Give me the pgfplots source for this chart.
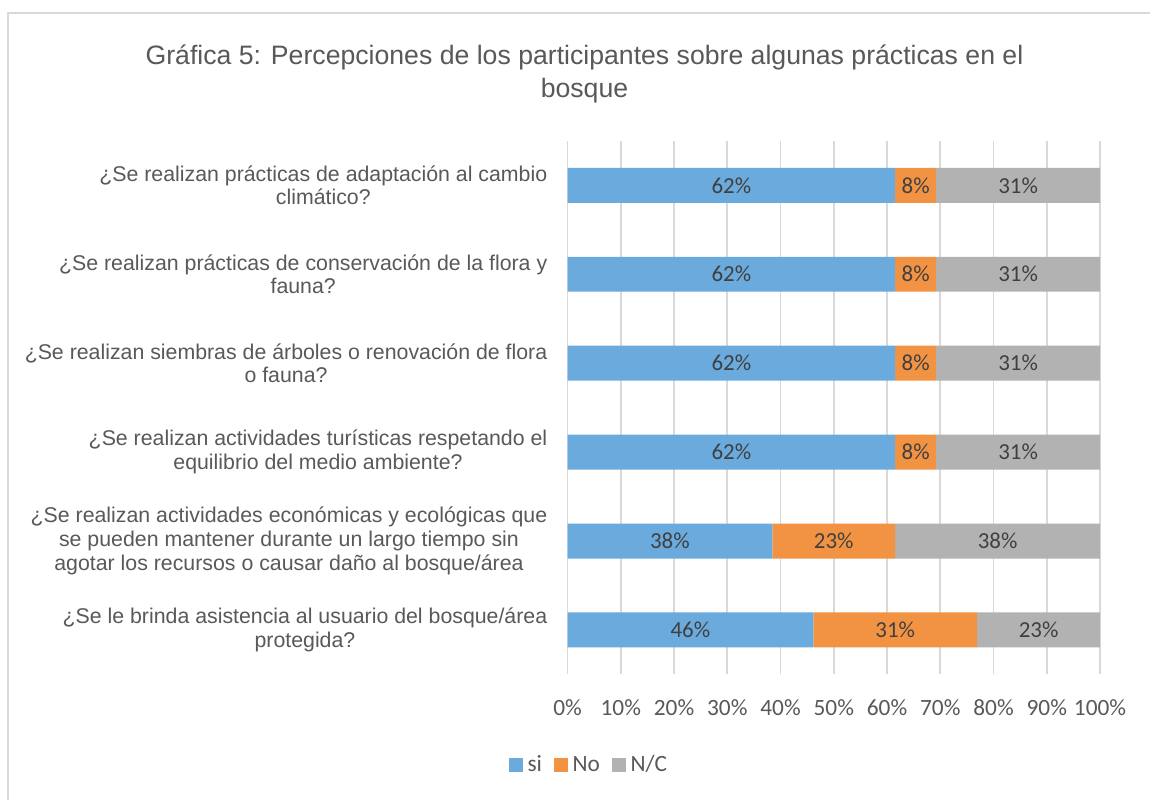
\documentclass[border=0pt]{standalone}
\usepackage{fontspec}
\setmainfont{Liberation Sans}
\newfontfamily\calibri{Carlito}
\usepackage{pgfplots}
\pgfplotsset{compat=1.18}
\usepackage{pgfplotstable}

\definecolor{siblue}{HTML}{6AAADC}
\definecolor{noorange}{HTML}{F29343}
\definecolor{ncgray}{HTML}{B2B2B2}
\definecolor{textgray}{HTML}{595959}
\definecolor{labelgray}{HTML}{404040}
\definecolor{gridgray}{HTML}{D9D9D9}

% Porcentajes por pregunta (pos 1 = abajo, 6 = arriba)
\pgfplotstableread{
pos si    no    nc
1   46.15 30.77 23.08
2   38.46 23.08 38.46
3   61.54 7.69  30.77
4   61.54 7.69  30.77
5   61.54 7.69  30.77
6   61.54 7.69  30.77
}\datos

\pgfplotsset{
  marco/.style={
    at={(426pt,94.5pt)}, anchor=south west,
    scale only axis, width=399.75pt, height=400.5pt,
    xmin=0, xmax=100, ymin=0.5, ymax=6.5,
    /pgf/number format/assume math mode=true,
  },
  etiqueta/.style={
    only marks, mark=none,
    nodes near coords={\pgfmathprintnumber[fixed,precision=0,assume math mode=true]{\pgfplotspointmeta}\%},
    every node near coord/.append style={
      font=\calibri\fontsize{17.2}{20}\selectfont, text=labelgray, anchor=center},
  },
}

\begin{document}
\begin{tikzpicture}
% lienzo y marco
\fill[white] (0pt,0pt) rectangle (863.25pt,600.75pt);
\draw[gridgray, line width=1.5pt] (6pt,0pt) -- (6pt,591pt) -- (863.25pt,591pt);

% título
\node[align=center, text=textgray, font=\fontsize{20}{24.5}\selectfont] at (438.75pt,545pt)
  {Gráfica 5: Percepciones de los participantes sobre algunas prácticas en el\\bosque};

\begin{axis}[
  marco,
  xbar stacked, bar width=26.25pt,
  axis line style={draw=none},
  major tick length=0pt,
  xtick={0,10,...,100},
  xmajorgrids, grid style={gridgray, line width=1.2pt},
  xticklabel={\pgfmathprintnumber{\tick}\%},
  xticklabel style={font=\calibri\fontsize{17.5}{20}\selectfont, text=textgray, inner sep=0pt, yshift=-18.5pt},
  ytick={1,...,6},
  yticklabels={
    {¿Se le brinda asistencia al usuario del bosque/área\\protegida?},
    {¿Se realizan actividades económicas y ecológicas que\\se pueden mantener durante un largo tiempo sin\\agotar los recursos o causar daño al bosque/área},
    {¿Se realizan actividades turísticas respetando el\\equilibrio del medio ambiente?},
    {¿Se realizan siembras de árboles o renovación de flora\\o fauna?},
    {¿Se realizan prácticas de conservación de la flora y\\fauna?},
    {¿Se realizan prácticas de adaptación al cambio\\climático?}},
  yticklabel style={align=center, font=\fontsize{16}{17.8}\selectfont, text=textgray, inner sep=0pt, xshift=-15pt},
  legend style={draw=none, fill=none, legend columns=3,
    at={(0.041,0)}, anchor=center, yshift=-68.25pt,
    font=\calibri\fontsize{17.5}{20}\selectfont, text=textgray,
    nodes={text height=12pt, text depth=3pt},
    /tikz/every even column/.append style={column sep=7pt}},
  legend image code/.code={
    \fill[#1] (0pt,-5.25pt) rectangle (10.5pt,5.25pt);
    \path (12pt,0pt);},
]
\addplot[fill=siblue, draw=none] table[x=si, y=pos] {\datos};
\addplot[fill=noorange, draw=none] table[x=no, y=pos] {\datos};
\addplot[fill=ncgray, draw=none] table[x=nc, y=pos] {\datos};
\legend{si, No, N/C}
\end{axis}

% rótulos de valor en el centro de cada tramo
\begin{axis}[marco, hide axis]
\addplot[etiqueta, point meta=\thisrow{si}]
  table[x expr=\thisrow{si}/2, y=pos] {\datos};
\addplot[etiqueta, point meta=\thisrow{no}]
  table[x expr=\thisrow{si}+\thisrow{no}/2, y=pos] {\datos};
\addplot[etiqueta, point meta=\thisrow{nc}]
  table[x expr=\thisrow{si}+\thisrow{no}+\thisrow{nc}/2, y=pos] {\datos};
\end{axis}
\end{tikzpicture}
\end{document}
